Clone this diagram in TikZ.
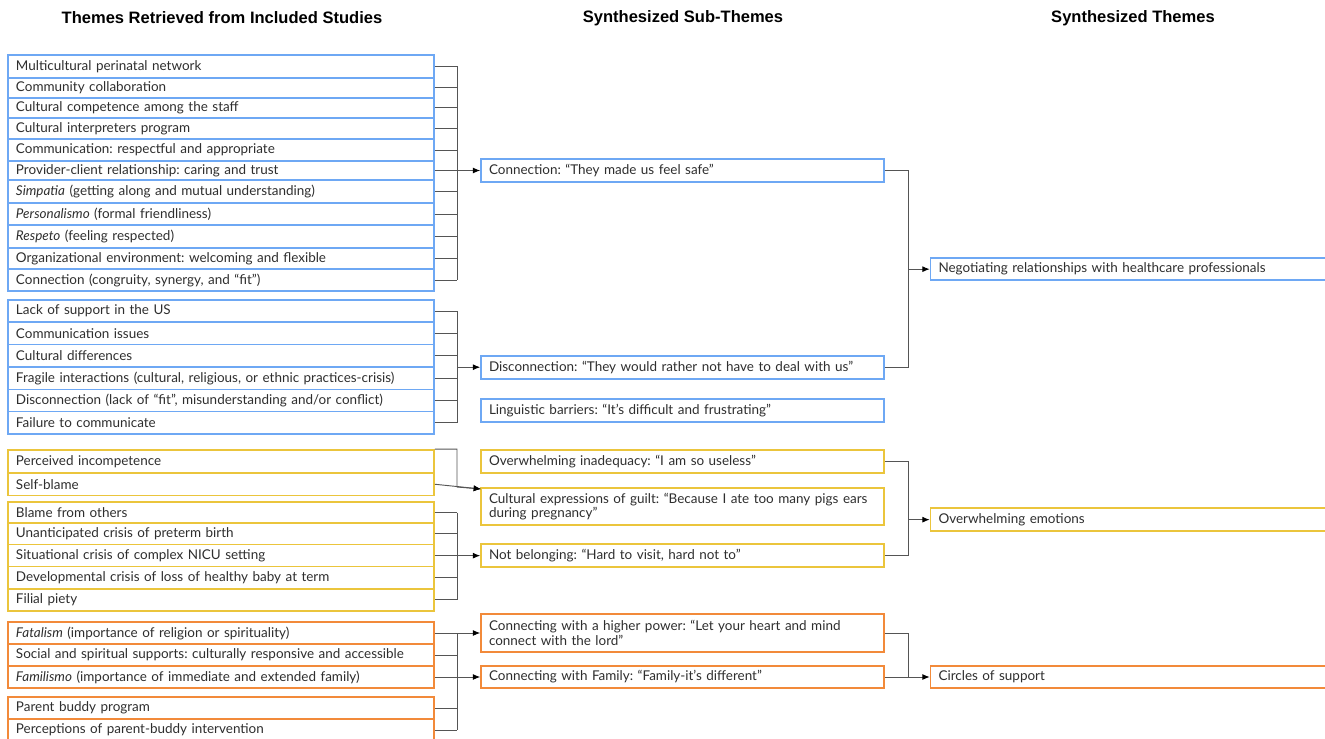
\documentclass[tikz,border=0pt]{standalone}
\usepackage{fontspec}
\setmainfont{Lato}
\newfontfamily\headfont{Liberation Sans}
\usetikzlibrary{arrows.meta,calc}
\definecolor{cblue}{HTML}{6EA8F4}
\definecolor{cyel}{HTML}{EBC53C}
\definecolor{corg}{HTML}{F28A3A}
\definecolor{cline}{HTML}{555555}
\definecolor{ctext}{HTML}{2E2E2E}
\newcommand\bodyfnt{\fontsize{10.1}{11}\selectfont}
\tikzset{
  box/.style={draw, line width=1.25pt, inner xsep=6pt, inner ysep=0pt, align=left,
    font=\bodyfnt, text=ctext},
  head/.style={font=\headfont\bfseries\fontsize{12.4}{14}\selectfont, inner sep=0pt},
  conn/.style={draw=cline, line width=0.7pt},
  arr/.style={conn, -{Latex[length=5.5pt,width=4.5pt,black]}},
}
\newcommand\lboxA[5]{\node[box, draw=#2, minimum height={(#4-#3)*0.75pt}, text width=307.5pt] (#1) at (221,{(#3+#4)/2}) {#5};}
\newcommand\mboxA[5]{\node[box, draw=#2, minimum height={(#4-#3)*0.75pt}, text width=290.25pt] (#1) at (682.5,{(#3+#4)/2}) {#5};}
\newcommand\rboxA[5]{\node[box, draw=#2, minimum height={(#4-#3)*0.75pt}, text width=295.1pt] (#1) at (1135.25,{(#3+#4)/2}) {#5};}
\begin{document}
\frenchspacing
\begin{tikzpicture}[x=0.75pt,y=-0.75pt]
\useasboundingbox (0,0) rectangle (1325,739);
\clip (0,0) rectangle (1325,739);
\coordinate (s1) at (457,0);
\coordinate (s2) at (908,0);
% headers
\node[head] (h1) at (222,18) {Themes Retrieved from Included Studies};
\node[head] (h2) at (683,18) {Synthesized Sub-Themes};
\node[head] (h3) at (1133,18) {Synthesized Themes};
% blue group 1
\lboxA{a1}{cblue}{55}{77.7}{Multicultural perinatal network}
\lboxA{a2}{cblue}{77.7}{97.7}{Community collaboration}
\lboxA{a3}{cblue}{97.7}{117.7}{Cultural competence among the staff}
\lboxA{a4}{cblue}{117.7}{139.3}{Cultural interpreters program}
\lboxA{a5}{cblue}{139.3}{160.7}{Communication: respectful and appropriate}
\lboxA{a6}{cblue}{160.7}{180.3}{Provider-client relationship: caring and trust}
\lboxA{a7}{cblue}{180.3}{202.7}{\textit{Simpatia} (getting along and mutual understanding)}
\lboxA{a8}{cblue}{202.7}{225.3}{\textit{Personalismo} (formal friendliness)}
\lboxA{a9}{cblue}{225.3}{247.7}{\textit{Respeto} (feeling respected)}
\lboxA{a10}{cblue}{247.7}{269.3}{Organizational environment: welcoming and flexible}
\lboxA{a11}{cblue}{269.3}{291}{Connection (congruity, synergy, and “fit”)}
% blue group 2
\lboxA{b1}{cblue}{300}{322}{Lack of support in the US}
\lboxA{b2}{cblue}{322}{344.5}{Communication issues}
\lboxA{b3}{cblue}{344.5}{367}{Cultural differences}
\lboxA{b4}{cblue}{367}{389.5}{Fragile interactions (cultural, religious, or ethnic practices-crisis)}
\lboxA{b5}{cblue}{389.5}{411.5}{Disconnection (lack of “fit”, misunderstanding and/or conflict)}
\lboxA{b6}{cblue}{411.5}{434}{Failure to communicate}
% yellow group 1
\lboxA{c1}{cyel}{450}{473}{Perceived incompetence}
\lboxA{c2}{cyel}{473}{495.5}{Self-blame}
% yellow group 2
\lboxA{d1}{cyel}{502}{523}{Blame from others}
\lboxA{d2}{cyel}{523}{544.5}{Unanticipated crisis of preterm birth}
\lboxA{d3}{cyel}{544.5}{566.5}{Situational crisis of complex NICU setting}
\lboxA{d4}{cyel}{566.5}{588.7}{Developmental crisis of loss of healthy baby at term}
\lboxA{d5}{cyel}{588.7}{611}{Filial piety}
% orange group 1
\lboxA{e1}{corg}{622}{644}{\textit{Fatalism} (importance of religion or spirituality)}
\lboxA{e2}{corg}{644}{666}{Social and spiritual supports: culturally responsive and accessible}
\lboxA{e3}{corg}{666}{688}{\textit{Familismo} (importance of immediate and extended family)}
% orange group 2
\lboxA{f1}{corg}{697}{719}{Parent buddy program}
\lboxA{f2}{corg}{719}{741}{Perceptions of parent-buddy intervention}
% middle
\mboxA{mconn}{cblue}{159}{182}{Connection: “They made us feel safe”}
\mboxA{mdisc}{cblue}{355.7}{378.7}{Disconnection: “They would rather not have to deal with us”}
\mboxA{mling}{cblue}{398.7}{421.7}{Linguistic barriers: “It’s difficult and frustrating”}
\mboxA{mineq}{cyel}{450}{473}{Overwhelming inadequacy: “I am so useless”}
\mboxA{mguilt}{cyel}{487.7}{525.3}{Cultural expressions of guilt: “Because I ate too many pigs ears\\during pregnancy”}
\mboxA{mnotb}{cyel}{544.3}{567}{Not belonging: “Hard to visit, hard not to”}
\mboxA{mhigh}{corg}{614}{652}{Connecting with a higher power: “Let your heart and mind\\connect with the lord”}
\mboxA{mfam}{corg}{665.7}{688.3}{Connecting with Family: “Family-it’s different”}
% right
\rboxA{rneg}{cblue}{258.3}{280}{Negotiating relationships with healthcare professionals}
\rboxA{remo}{cyel}{508.3}{531}{Overwhelming emotions}
\rboxA{rcirc}{corg}{665.7}{688.3}{Circles of support}
% connectors blue 1
\foreach \n in {a1,a2,a3,a4,a5,a6,a7,a8,a9,a10,a11}
  \draw[conn] (\n.east) -- (\n.east -| s1);
\draw[conn] (a1.east -| s1) -- (a11.east -| s1);
\draw[arr] (mconn.west -| s1) -- (mconn.west);
% blue 2
\foreach \n in {b1,b2,b3,b4,b5,b6}
  \draw[conn] (\n.east) -- (\n.east -| s1);
\draw[conn] (b1.east -| s1) -- (b6.east -| s1);
\draw[arr] (mdisc.west -| s1) -- (mdisc.west);
% right blue
\draw[conn] (mconn.east) -- (mconn.east -| s2) -- (mdisc.east -| s2) -- (mdisc.east);
\draw[arr] (rneg.west -| s2) -- (rneg.west);
% yellow 1
\coordinate (gin) at (481,489);
\draw[arr] (c1.north east) -- (c1.north east -| s1) -- (457,487) -- (gin);
\draw[arr] (c2.east) -- (gin);
% yellow 2
\foreach \n in {d1,d2,d3,d4,d5}
  \draw[conn] (\n.east) -- (\n.east -| s1);
\draw[conn] (d1.east -| s1) -- (d5.east -| s1);
\draw[arr] (mnotb.west -| s1) -- (mnotb.west);
% right yellow
\draw[conn] (mineq.east) -- (mineq.east -| s2) -- (mnotb.east -| s2) -- (mnotb.east);
\draw[arr] (remo.west -| s2) -- (remo.west);
% orange
\foreach \n in {e1,e2,e3,f1,f2}
  \draw[conn] (\n.east) -- (\n.east -| s1);
\draw[conn] (e1.east -| s1) -- (f2.east -| s1);
\draw[arr] (mhigh.west -| s1) -- (mhigh.west);
\draw[arr] (mfam.west -| s1) -- (mfam.west);
% right orange
\draw[conn] (mhigh.east) -- (mhigh.east -| s2) -- (rcirc.west -| s2);
\draw[arr] (mfam.east) -- (rcirc.west);
\end{tikzpicture}
\end{document}
